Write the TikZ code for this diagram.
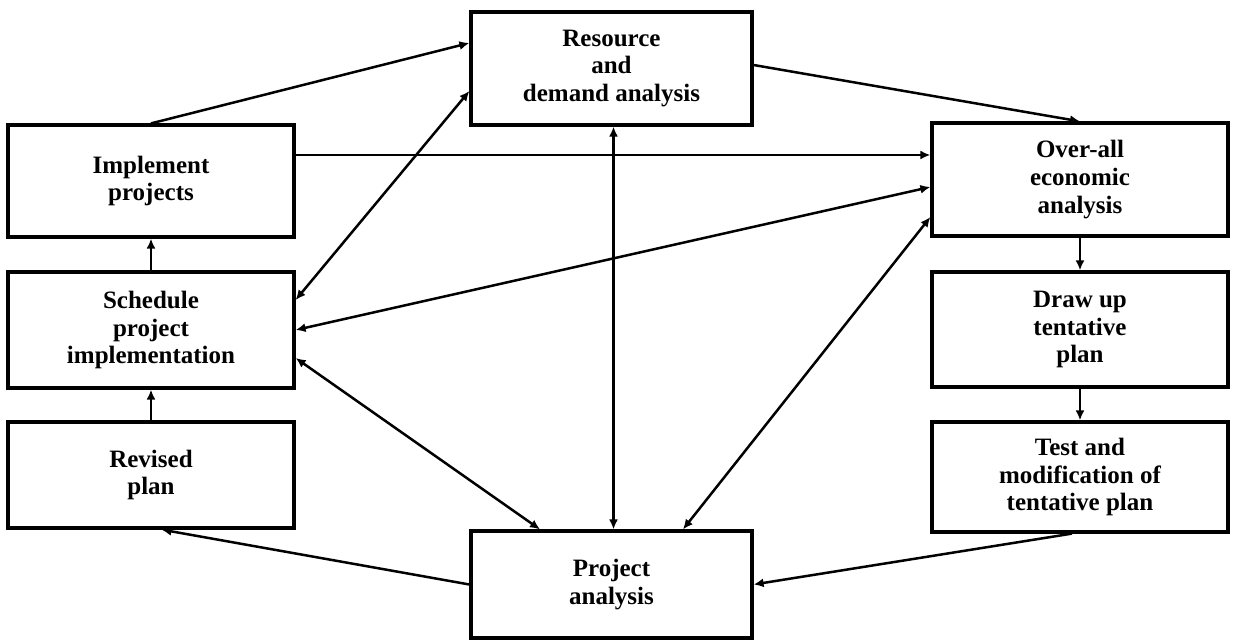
\documentclass[tikz,border=0pt]{standalone}
\usepackage{fontspec}
\setmainfont{Liberation Serif}
\usetikzlibrary{arrows.meta}

\tikzset{
  stage/.style={draw, line width=1.6pt, align=center, inner sep=2pt,
    font=\bfseries\fontsize{12.5}{13.8}\selectfont},
  leftcol/.style={stage, minimum width=143pt},
  midcol/.style={stage, minimum width=140.5pt},
  rightcol/.style={stage, minimum width=148pt},
  flow/.style={line width=1.25pt, -{Latex[length=5pt,width=4.5pt]}},
  twoway/.style={line width=1.25pt, {Latex[length=5pt,width=4.5pt]}-{Latex[length=5pt,width=4.5pt]}}
}

\begin{document}
\begin{tikzpicture}[x=0.5pt, y=-0.5pt]
\useasboundingbox (0,0) rectangle (1233,641);

% left column
\node[leftcol, minimum height=56pt]   (impl)  at (151,181)   {Implement\\projects};
\node[leftcol, minimum height=58pt]   (sched) at (151,330)   {Schedule\\project\\implementation};
\node[leftcol, minimum height=53pt]   (rev)   at (151,475)   {Revised\\plan};

% middle column
\node[midcol, minimum height=56.5pt]  (res)   at (611.5,68.5)  {Resource\\and\\demand analysis};
\node[midcol, minimum height=53.5pt]  (proj)  at (611.5,584.5) {Project\\analysis};

% right column
\node[rightcol, minimum height=56.5pt] (over) at (1080,179.5)  {Over-all\\economic\\analysis};
\node[rightcol, minimum height=57.5pt] (draft) at (1080,329.5) {Draw up\\tentative\\plan};
\node[rightcol, minimum height=55pt]   (test) at (1080,477)    {Test and\\modification of\\tentative plan};

% connectors
\draw[flow] (impl.north) -- ([yshift=12.75pt]res.west);
\draw[twoway] ([yshift=15pt]sched.east) -- ([yshift=-11.25pt]res.west);
\draw[flow] ([yshift=13pt]impl.east) coordinate (ie) -- (ie -| over.west);
\draw[flow] ([yshift=1.75pt]res.east) -- (over.north);
\draw[twoway] ([yshift=-3.75pt]over.west) -- (sched.east);
\draw[twoway] ([yshift=-18.75pt]over.west) -- ([xshift=35.75pt]proj.north);
\draw[twoway] ([xshift=1pt]res.south) -- ([xshift=1pt]proj.north);
\draw[twoway] ([yshift=-14pt]sched.east) -- ([xshift=-35.75pt]proj.north);
\draw[flow] (over.south) -- (draft.north);
\draw[flow] (draft.south) -- (test.north);
\draw[flow] ([xshift=-4pt]test.south) -- (proj.east);
\draw[flow] (proj.west) -- ([xshift=5.25pt]rev.south);
\draw[flow] (rev.north) -- (sched.south);
\draw[flow] (sched.north) -- (impl.south);
\end{tikzpicture}
\end{document}
